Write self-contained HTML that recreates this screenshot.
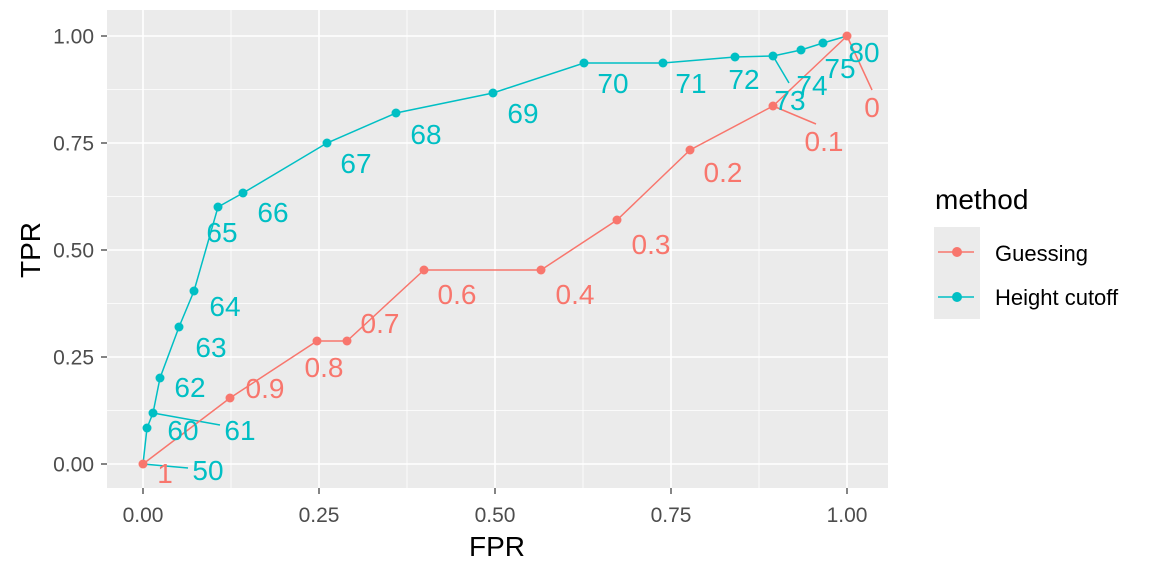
<!DOCTYPE html><html><head><style>body{margin:0;background:#fff}svg{display:block}text{font-family:"Liberation Sans",sans-serif}</style></head><body>
<svg width="1152" height="576" xmlns="http://www.w3.org/2000/svg">
<rect x="107" y="10" width="781" height="478" fill="#EBEBEB"/>
<g stroke="#fff" stroke-width="0.8"><line x1="231" x2="231" y1="10" y2="488"/><line x1="407" x2="407" y1="10" y2="488"/><line x1="583" x2="583" y1="10" y2="488"/><line x1="759" x2="759" y1="10" y2="488"/>
<line x1="107" x2="888" y1="410.5" y2="410.5"/><line x1="107" x2="888" y1="303.5" y2="303.5"/><line x1="107" x2="888" y1="196.5" y2="196.5"/><line x1="107" x2="888" y1="89.5" y2="89.5"/></g>
<g stroke="#fff" stroke-width="1.6"><line x1="143" x2="143" y1="10" y2="488"/><line x1="319" x2="319" y1="10" y2="488"/><line x1="495" x2="495" y1="10" y2="488"/><line x1="671" x2="671" y1="10" y2="488"/><line x1="847" x2="847" y1="10" y2="488"/>
<line x1="107" x2="888" y1="464" y2="464"/><line x1="107" x2="888" y1="357" y2="357"/><line x1="107" x2="888" y1="250" y2="250"/><line x1="107" x2="888" y1="143" y2="143"/><line x1="107" x2="888" y1="36" y2="36"/></g>
<g stroke="#333" stroke-width="1.2"><line x1="143" x2="143" y1="488" y2="494"/><line x1="319" x2="319" y1="488" y2="494"/><line x1="495" x2="495" y1="488" y2="494"/><line x1="671" x2="671" y1="488" y2="494"/><line x1="847" x2="847" y1="488" y2="494"/>
<line x1="101" x2="107" y1="464" y2="464"/><line x1="101" x2="107" y1="357" y2="357"/><line x1="101" x2="107" y1="250" y2="250"/><line x1="101" x2="107" y1="143" y2="143"/><line x1="101" x2="107" y1="36" y2="36"/></g>
<g font-size="21" fill="#4D4D4D" text-anchor="end"><text x="94" y="471.5">0.00</text><text x="94" y="364.5">0.25</text><text x="94" y="257.5">0.50</text><text x="94" y="150.5">0.75</text><text x="94" y="43.5">1.00</text></g>
<g font-size="21" fill="#4D4D4D" text-anchor="middle"><text x="143" y="522">0.00</text><text x="319" y="522">0.25</text><text x="495" y="522">0.50</text><text x="671" y="522">0.75</text><text x="847" y="522">1.00</text></g>
<text x="497" y="556" font-size="28" text-anchor="middle">FPR</text>
<text transform="translate(40,250) rotate(-90)" font-size="28" text-anchor="middle">TPR</text>
<g stroke="#00BFC4" stroke-width="1.5"><line x1="143" y1="464" x2="188" y2="468"/><line x1="153" y1="413" x2="220" y2="425"/><line x1="773" y1="56" x2="789" y2="83"/></g>
<g stroke="#F8766D" stroke-width="1.5"><line x1="847" y1="36" x2="872" y2="90"/><line x1="773" y1="106" x2="816" y2="124"/></g>
<polyline fill="none" stroke="#F8766D" stroke-width="1.5" points="143,464 230,398 317,341 347,341 424,270 541,270 617,220 690,150 773,106 847,36"/>
<polyline fill="none" stroke="#00BFC4" stroke-width="1.5" points="143,464 147,428 153,413 160,378 179,327 194,291 218,207 243,193 327,143 396,113 493,93 584,63 663,63 735,57 773,56 801,50 823,43 847,36"/>
<g fill="#F8766D"><circle cx="230" cy="398" r="4.5"/><circle cx="317" cy="341" r="4.5"/><circle cx="347" cy="341" r="4.5"/><circle cx="424" cy="270" r="4.5"/><circle cx="541" cy="270" r="4.5"/><circle cx="617" cy="220" r="4.5"/><circle cx="690" cy="150" r="4.5"/><circle cx="773" cy="106" r="4.5"/></g>
<g fill="#00BFC4"><circle cx="147" cy="428" r="4.5"/><circle cx="153" cy="413" r="4.5"/><circle cx="160" cy="378" r="4.5"/><circle cx="179" cy="327" r="4.5"/><circle cx="194" cy="291" r="4.5"/><circle cx="218" cy="207" r="4.5"/><circle cx="243" cy="193" r="4.5"/><circle cx="327" cy="143" r="4.5"/><circle cx="396" cy="113" r="4.5"/><circle cx="493" cy="93" r="4.5"/><circle cx="584" cy="63" r="4.5"/><circle cx="663" cy="63" r="4.5"/><circle cx="735" cy="57" r="4.5"/><circle cx="773" cy="56" r="4.5"/><circle cx="801" cy="50" r="4.5"/><circle cx="823" cy="43" r="4.5"/></g>
<circle cx="143" cy="464" r="4.5" fill="#F8766D"/><circle cx="847" cy="36" r="4.5" fill="#F8766D"/>
<g font-size="28" fill="#F8766D" text-anchor="middle"><text x="165" y="483">1</text><text x="265" y="398">0.9</text><text x="324" y="377">0.8</text><text x="380" y="333">0.7</text><text x="457" y="304">0.6</text><text x="575" y="304">0.4</text><text x="651" y="254">0.3</text><text x="723" y="182">0.2</text><text x="824" y="151">0.1</text><text x="872" y="117">0</text></g>
<g font-size="28" fill="#00BFC4" text-anchor="middle"><text x="208" y="480">50</text><text x="183" y="440">60</text><text x="240" y="440">61</text><text x="190" y="397">62</text><text x="211" y="357">63</text><text x="225" y="316">64</text><text x="222" y="242">65</text><text x="273" y="222">66</text><text x="356" y="173">67</text><text x="426" y="144">68</text><text x="523" y="123">69</text><text x="613" y="93">70</text><text x="691" y="93">71</text><text x="744" y="89">72</text><text x="790" y="110">73</text><text x="812" y="95">74</text><text x="840" y="78">75</text><text x="864" y="62">80</text></g>
<text x="935" y="209" font-size="28">method</text>
<rect x="934" y="227" width="46" height="92" fill="#EBEBEB"/>
<line x1="938" x2="974" y1="252" y2="252" stroke="#F8766D" stroke-width="1.5"/><circle cx="957" cy="252" r="5" fill="#F8766D"/>
<line x1="938" x2="974" y1="297" y2="297" stroke="#00BFC4" stroke-width="1.5"/><circle cx="957" cy="297" r="5" fill="#00BFC4"/>
<text x="995" y="261" font-size="22">Guessing</text><text x="995" y="305" font-size="22">Height cutoff</text>
</svg></body></html>
